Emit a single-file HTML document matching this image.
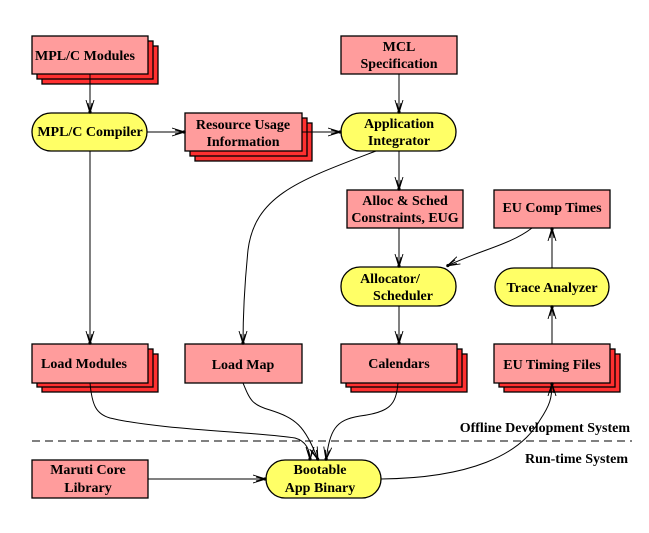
<!DOCTYPE html>
<html><head><style>
html,body{margin:0;padding:0;background:#fff;}
svg{display:block;}
svg text{font-family:"Liberation Serif","Times New Roman","DejaVu Serif",serif !important;font-weight:bold;font-size:14px;fill:#000;text-anchor:middle;}
.b{fill:#ff9c9c;stroke:#000;stroke-width:1.3;}
.s{fill:#ff3030;stroke:#000;stroke-width:1.3;}
.p{fill:#ffff66;stroke:#000;stroke-width:1.3;}
.l{fill:none;stroke:#000;stroke-width:1;}
</style></head><body>
<svg width="649" height="533" viewBox="0 0 649 533" xmlns="http://www.w3.org/2000/svg" font-family="Liberation Serif, serif">
<defs>
<marker id="a" markerWidth="14" markerHeight="10" refX="13" refY="5" orient="auto" markerUnits="userSpaceOnUse">
<path d="M0,1 L13,5 L0,9 M3,3 L13,5 L3,7" fill="none" stroke="#000" stroke-width="0.9"/>
<circle cx="12" cy="5" r="1.6" fill="#000"/>
</marker>
</defs>

<rect class="s" x="42" y="46" width="116" height="38"/>
<rect class="s" x="37" y="41" width="116" height="38"/>
<rect class="b" x="32" y="36" width="116" height="38"/>
<text x="85" y="60">MPL/C Modules</text>

<rect class="p" x="32" y="113" width="115" height="38" rx="19"/>
<text x="90" y="136">MPL/C Compiler</text>

<rect class="s" x="195" y="123" width="117" height="38"/>
<rect class="s" x="190" y="118" width="117" height="38"/>
<rect class="b" x="185" y="113" width="117" height="38"/>
<text x="243" y="129">Resource Usage</text>
<text x="243" y="146">Information</text>

<rect class="b" x="341" y="36" width="116" height="38"/>
<text x="399" y="51">MCL</text>
<text x="399" y="68">Specification</text>

<rect class="p" x="341" y="113" width="115" height="38" rx="19"/>
<text x="399" y="128">Application</text>
<text x="399" y="145">Integrator</text>

<rect class="b" x="347" y="190" width="116" height="38"/>
<text x="405" y="205">Alloc &amp; Sched</text>
<text x="405" y="222">Constraints, EUG</text>

<rect class="b" x="494" y="190" width="116" height="38"/>
<text x="552" y="212">EU Comp Times</text>

<rect class="p" x="341" y="267" width="115" height="39" rx="19"/>
<text x="390" y="283">Allocator/</text>
<text x="403" y="300">Scheduler</text>

<rect class="p" x="495" y="268" width="114" height="38" rx="19"/>
<text x="552" y="292">Trace Analyzer</text>

<rect class="s" x="42" y="354" width="116" height="38"/>
<rect class="s" x="37" y="349" width="116" height="38"/>
<rect class="b" x="32" y="344" width="116" height="39"/>
<text x="84" y="368">Load Modules</text>

<rect class="b" x="185" y="344" width="117" height="39"/>
<text x="243" y="369">Load Map</text>

<rect class="s" x="351" y="354" width="116" height="38"/>
<rect class="s" x="346" y="349" width="116" height="38"/>
<rect class="b" x="341" y="344" width="116" height="39"/>
<text x="399" y="368">Calendars</text>

<rect class="s" x="504" y="354" width="116" height="38"/>
<rect class="s" x="499" y="349" width="116" height="38"/>
<rect class="b" x="494" y="344" width="116" height="39"/>
<text x="552" y="369">EU Timing Files</text>

<rect class="b" x="32" y="460" width="116" height="38"/>
<text x="88" y="474">Maruti Core</text>
<text x="88" y="492">Library</text>

<rect class="p" x="266" y="460" width="115" height="38" rx="19"/>
<text x="320" y="474">Bootable</text>
<text x="320" y="492">App Binary</text>

<line x1="32" y1="441" x2="632" y2="441" stroke="#000" stroke-width="1" stroke-dasharray="8,5"/>
<text x="630" y="432" style="text-anchor:end">Offline Development System</text>
<text x="628" y="463" style="text-anchor:end">Run-time System</text>

<line class="l" x1="90" y1="74" x2="90" y2="113" marker-end="url(#a)"/>
<line class="l" x1="147" y1="132" x2="185" y2="132" marker-end="url(#a)"/>
<line class="l" x1="302" y1="132" x2="341" y2="132" marker-end="url(#a)"/>
<line class="l" x1="399" y1="74" x2="399" y2="113" marker-end="url(#a)"/>
<line class="l" x1="399" y1="151" x2="399" y2="190" marker-end="url(#a)"/>
<line class="l" x1="399" y1="228" x2="399" y2="267" marker-end="url(#a)"/>
<line class="l" x1="399" y1="306" x2="399" y2="344" marker-end="url(#a)"/>
<line class="l" x1="90" y1="151" x2="90" y2="344" marker-end="url(#a)"/>
<path class="l" d="M376,151 C300,180 255,195 248,250 C244,290 243,320 243,344" marker-end="url(#a)"/>
<path class="l" d="M532,228 C510,245 480,250 447,266" marker-end="url(#a)"/>
<line class="l" x1="552" y1="268" x2="552" y2="228" marker-end="url(#a)"/>
<line class="l" x1="552" y1="344" x2="552" y2="306" marker-end="url(#a)"/>
<path class="l" d="M90,383 C92,405 96,414 110,418 C160,430 260,432 295,438 C306,441 310,450 310,460" marker-end="url(#a)"/>
<path class="l" d="M243,383 C250,400 252,405 270,410 C295,418 305,425 318,460" marker-end="url(#a)"/>
<path class="l" d="M398,383 C396,405 390,412 360,416 C335,420 330,430 326,460" marker-end="url(#a)"/>
<line class="l" x1="148" y1="479" x2="266" y2="479" marker-end="url(#a)"/>
<path class="l" d="M381,479 C470,478 520,455 540,420 C550,405 552,398 552,383" marker-end="url(#a)"/>
</svg>
</body></html>
